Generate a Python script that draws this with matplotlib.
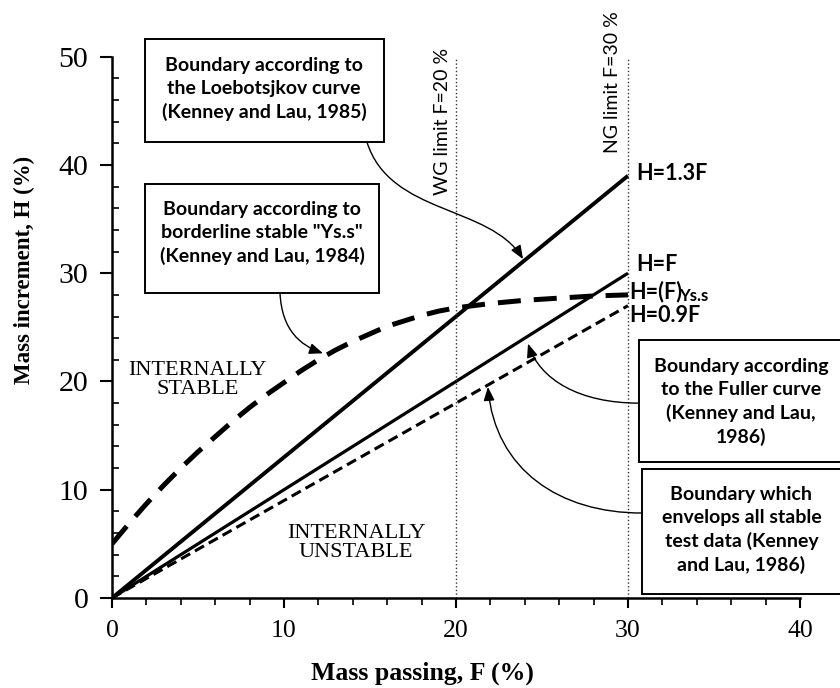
import numpy as np
import matplotlib.pyplot as plt
from matplotlib.patches import Rectangle, FancyArrowPatch
from matplotlib.path import Path

# mass passing F (%) and boundary curves H (%)
F_lin = [0, 30]
H_13F = [0, 39]
H_F = [0, 30]
H_09F = [0, 27]

F_yss = [0, 1, 2, 3, 4, 5, 6, 7, 8, 9, 10, 11, 12, 13, 14, 15, 16, 17, 18, 19,
         20, 22, 24, 26, 28, 30]
H_yss = [5, 6.9, 8.7, 10.4, 12.0, 13.5, 14.9, 16.3, 17.6, 18.8, 19.9, 21.0, 22.0,
         22.9, 23.7, 24.4, 25.1, 25.6, 26.1, 26.5, 26.8, 27.2, 27.5, 27.7, 27.9, 28.0]

limits = [20, 30]
limit_labels = ["WG limit F=20 %", "NG limit F=30 %"]
limit_label_x = [19.2, 29.1]
limit_label_top = [50.8, 54.2]

x_ticks = [0, 10, 20, 30, 40]
y_ticks = [0, 10, 20, 30, 40, 50]

# callout boxes: text, text centre, box (x0, y0, x1, y1), arrow bezier
notes = [
    ("Boundary according to\nthe Loebotsjkov curve\n(Kenney and Lau, 1985)",
     (8.84, 47.0), (1.92, 42.1, 15.81, 51.6),
     [(14.83, 42.1), (16.16, 35.37), (21.98, 36.3), (23.9, 31.3)]),
    ("Boundary according to\nborderline stable \"Ys.s\"\n(Kenney and Lau, 1984)",
     (8.72, 33.7), (1.92, 28.16, 15.52, 38.23),
     [(9.77, 28.16), (9.88, 24.75), (10.93, 23.36), (12.27, 22.6)]),
    ("Boundary according\nto the Fuller curve\n(Kenney and Lau,\n1986)",
     (36.57, 18.1), (30.64, 12.56, 42.6, 23.82),
     [(30.64, 18.0), (27.21, 18.0), (24.88, 20.13), (24.19, 23.5)]),
    ("Boundary which\nenvelops all stable\ntest data (Kenney\nand Lau, 1986)",
     (36.6, 6.28), (30.81, 0.37, 42.6, 11.91),
     [(30.81, 7.85), (26.05, 7.85), (22.27, 11.8), (21.86, 19.5)]),
]

serif = "Liberation Serif"
sans = "Lato"

fig = plt.figure(figsize=(8.4, 6.88), dpi=100)
ax = fig.add_axes([0.1333, 0.1308, 0.819, 0.7868])

ax.plot(F_lin, H_13F, color='black', lw=2.8, solid_capstyle='butt')
ax.plot(F_lin, H_F, color='black', lw=2.3, solid_capstyle='butt')
ax.plot(F_lin, H_09F, color='black', lw=2.2, dashes=(3.4, 1.8))
ax.plot(F_yss, H_yss, color='black', lw=3.6, dashes=(4.6, 2.6))

for xv, lx, ly, lab in zip(limits, limit_label_x, limit_label_top, limit_labels):
    ax.plot([xv, xv], [0, 50], color='#333333', lw=1.0, ls=':')
    ax.text(lx, ly, lab, rotation=90, ha='center', va='top',
            fontsize=14, family=sans, clip_on=False)

lab_kw = dict(fontsize=15.5, family=sans, weight='bold', va='center')
ax.text(30.5, 39.2, "H=1.3F", **lab_kw)
ax.text(30.5, 30.8, "H=F", **lab_kw)
ax.text(30.05, 28.3, "H=(F)", **lab_kw)
ax.annotate("Ys.s", xy=(30.05, 28.3), xytext=(36, -3), textcoords='offset points',
            fontsize=12, family=sans, weight='bold', va='center')
ax.text(30.1, 26.1, "H=0.9F", **lab_kw)

ax.text(5.0, 20.1, "INTERNALLY\nSTABLE", ha='center', va='center', fontsize=16,
        family=serif, linespacing=1.0)
ax.text(14.2, 5.1, "INTERNALLY\nUNSTABLE", ha='center', va='center', fontsize=16,
        family=serif, linespacing=1.0)

for txt, (tx, ty), (x0, y0, x1, y1), pts in notes:
    ax.add_patch(Rectangle((x0, y0), x1 - x0, y1 - y0, fc='white', ec='black',
                           lw=1.4, clip_on=False, zorder=4))
    ax.text(tx, ty, txt, ha='center', va='center', fontsize=14, family=sans,
            weight='bold', linespacing=1.42, zorder=5, clip_on=False)
    path = Path(pts, [Path.MOVETO, Path.CURVE4, Path.CURVE4, Path.CURVE4])
    ax.add_patch(FancyArrowPatch(path=path, color='black', lw=1.0,
                                 arrowstyle='-|>,head_length=0.55,head_width=0.22',
                                 mutation_scale=15, zorder=3, clip_on=False))

ax.set_xlim(0, 40)
ax.set_ylim(0, 50)
ax.set_xticks(x_ticks)
ax.set_yticks(y_ticks)
ax.set_xticks(np.arange(0, 41, 2), minor=True)
ax.set_yticks(np.arange(0, 51, 2), minor=True)
for t in ax.get_xticklabels():
    t.set_family(serif)
    t.set_fontsize(18.5)
for t in ax.get_yticklabels():
    t.set_family(serif)
    t.set_fontsize(21.5)

ax.spines['top'].set_visible(False)
ax.spines['right'].set_visible(False)
ax.spines['left'].set_linewidth(1.8)
ax.spines['bottom'].set_linewidth(1.8)
ax.tick_params(axis='x', which='major', direction='out', length=7, width=1.5, pad=9)
ax.tick_params(axis='x', which='minor', direction='out', length=5, width=1.2)
ax.tick_params(axis='y', which='major', direction='out', length=9, width=1.5, pad=8)
ax.tick_params(axis='y', which='minor', direction='in', length=5, width=1.2)

ax.set_xlabel("Mass passing, F (%)", family=serif, weight='bold', fontsize=18.5)
ax.set_ylabel("Mass increment, H (%)", family=serif, weight='bold', fontsize=16.5)
ax.xaxis.set_label_coords(0.452, -0.118)
ax.yaxis.set_label_coords(-0.112, 0.606)

fig.savefig("out.png", dpi=100)
